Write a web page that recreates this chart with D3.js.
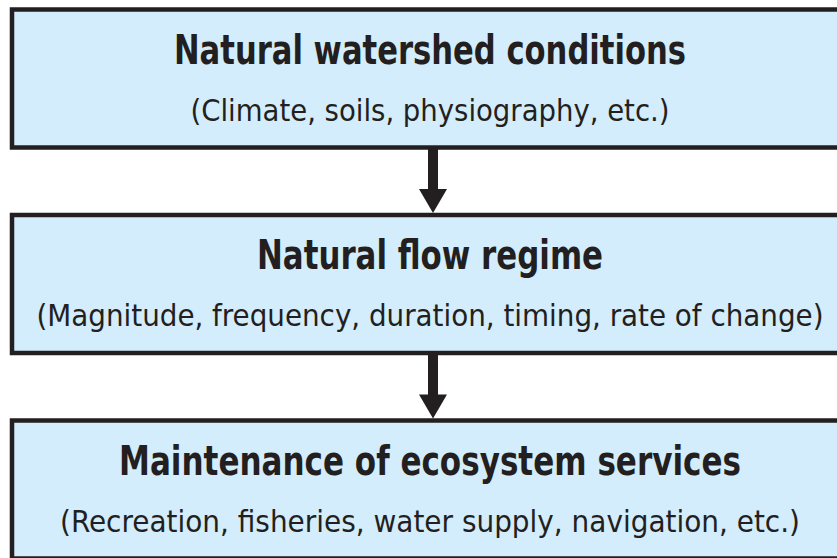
<!DOCTYPE html>
<html>
<head>
<meta charset="utf-8">
<script src="https://cdn.jsdelivr.net/npm/d3@7"></script>
<style>
  body { margin: 0; background: #fff; }
  svg { display: block; }
  .title { font-family: "Liberation Sans Narrow", "DejaVu Sans Condensed", sans-serif; font-weight: bold; }
  .sub { font-family: "Liberation Sans Narrow", "DejaVu Sans Condensed", sans-serif; }
</style>
</head>
<body>
<div id="chart"></div>
<script>
// flow steps, top to bottom
const steps = ["watershed", "flow", "services"];
const titles = [
  "Natural watershed conditions",
  "Natural flow regime",
  "Maintenance of ecosystem services"
];
const subtitles = [
  "(Climate, soils, physiography, etc.)",
  "(Magnitude, frequency, duration, timing, rate of change)",
  "(Recreation, fisheries, water supply, navigation, etc.)"
];
// measured text widths in the original (condensed face)
const titleWidths = [512, 346, 622];
const subWidths = [479, 787, 740];

const width = 837, height = 558;
const ink = "#231f20", fill = "#d3edfc";

const svg = d3.select("#chart").append("svg")
    .attr("width", width)
    .attr("height", height);

// vertical placement of the boxes: step 205.5, box height 138
const y = d3.scaleBand()
    .domain(steps)
    .range([9.5, 9.5 + 2 * 205.5 + 138])
    .paddingInner(67.5 / 205.5)
    .paddingOuter(0);

const x = d3.scaleLinear().domain([0, 1]).range([12, 860]);
const cx = 430;

const boxes = svg.selectAll("g.box")
  .data(steps)
  .join("g")
    .attr("class", "box")
    .attr("transform", d => `translate(0,${y(d)})`);

boxes.append("rect")
    .attr("x", x(0))
    .attr("y", 0)
    .attr("width", x(1) - x(0))
    .attr("height", y.bandwidth())
    .attr("fill", fill)
    .attr("stroke", ink)
    .attr("stroke-width", 4.5);

boxes.append("text")
    .attr("class", "title")
    .attr("x", cx)
    .attr("y", 54)
    .attr("text-anchor", "middle")
    .attr("font-size", 41)
    .attr("fill", ink)
    .attr("textLength", (d, i) => titleWidths[i])
    .attr("lengthAdjust", "spacingAndGlyphs")
    .text((d, i) => titles[i]);

boxes.append("text")
    .attr("class", "sub")
    .attr("x", cx)
    .attr("y", 111)
    .attr("text-anchor", "middle")
    .attr("font-size", 30)
    .attr("fill", ink)
    .attr("textLength", (d, i) => subWidths[i])
    .attr("lengthAdjust", "spacingAndGlyphs")
    .text((d, i) => subtitles[i]);

// arrows between consecutive boxes
const links = d3.pairs(steps);
const ax = 433, shaft = 10, headW = 28, headH = 24;

const arrows = svg.selectAll("g.arrow")
  .data(links)
  .join("g")
    .attr("class", "arrow");

arrows.append("rect")
    .attr("x", ax - shaft / 2)
    .attr("y", d => y(d[0]) + y.bandwidth())
    .attr("width", shaft)
    .attr("height", d => y(d[1]) - y(d[0]) - y.bandwidth() - headH)
    .attr("fill", ink);

arrows.append("path")
    .attr("fill", ink)
    .attr("d", d => {
      const tip = y(d[1]) - 2;
      return `M${ax - headW / 2},${tip - headH} L${ax + headW / 2},${tip - headH} L${ax},${tip} Z`;
    });
</script>
</body>
</html>
